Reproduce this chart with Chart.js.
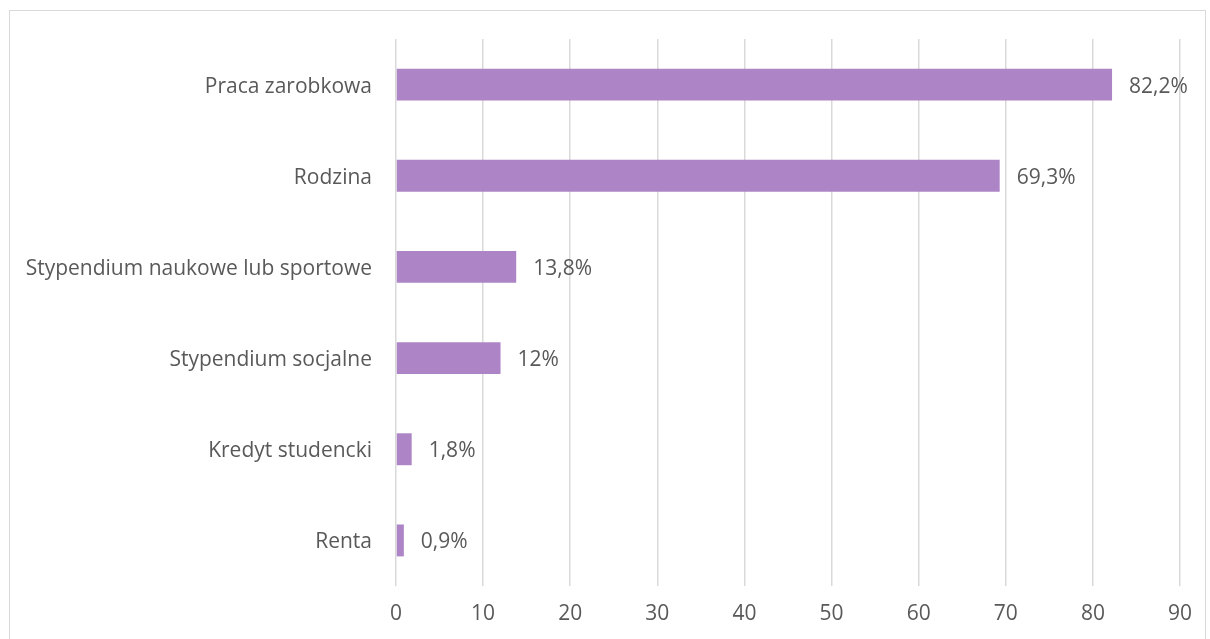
<!DOCTYPE html>
<html>
<head>
<meta charset="utf-8">
<script src="https://cdn.jsdelivr.net/npm/chart.js@4"></script>
<style>
  html, body { margin: 0; padding: 0; background: #fff; }
  #wrap { position: relative; width: 1210px; height: 639px; }
  #frame { position: absolute; left: 9px; top: 10px; width: 1197px; height: 640px; border: 1px solid #d9d9d9; box-sizing: border-box; pointer-events: none; }
</style>
</head>
<body>
<div id="wrap">
  <canvas id="chart" width="1210" height="639"></canvas>
  <div id="frame"></div>
</div>
<script>
const categories = ['Praca zarobkowa', 'Rodzina', 'Stypendium naukowe lub sportowe', 'Stypendium socjalne', 'Kredyt studencki', 'Renta'];
const values = [82.2, 69.3, 13.8, 12, 1.8, 0.9];
const valueLabels = ['82,2%', '69,3%', '13,8%', '12%', '1,8%', '0,9%'];

const textColor = '#595959';
const fontFamily = "'Open Sans', 'Liberation Sans', sans-serif";
const fontSize = 21;

const barLabels = {
  id: 'barLabels',
  afterDatasetsDraw(chart) {
    const ctx = chart.ctx;
    const meta = chart.getDatasetMeta(0);
    ctx.save();
    ctx.font = fontSize + 'px ' + fontFamily;
    ctx.fillStyle = textColor;
    ctx.textAlign = 'left';
    ctx.textBaseline = 'middle';
    meta.data.forEach((bar, i) => {
      ctx.fillText(valueLabels[i], bar.x + 17, bar.y + 2);
    });
    ctx.restore();
  }
};

new Chart(document.querySelector('#chart'), {
  type: 'bar',
  data: {
    labels: categories,
    datasets: [{
      data: values,
      backgroundColor: '#ad84c6',
      borderWidth: 0,
      barPercentage: 0.35,
      categoryPercentage: 1
    }]
  },
  options: {
    indexAxis: 'y',
    responsive: false,
    animation: false,
    events: [],
    layout: { padding: { top: 39, right: 30, left: 0, bottom: 0 } },
    plugins: { legend: { display: false }, tooltip: { enabled: false } },
    scales: {
      x: {
        min: 0,
        max: 90,
        ticks: { stepSize: 10, color: textColor, font: { size: fontSize, family: fontFamily }, padding: 15 },
        grid: { color: '#d9d9d9', lineWidth: 1.5, drawTicks: false },
        border: { display: false },
        afterFit(scale) { scale.height = 53; }
      },
      y: {
        ticks: { color: textColor, font: { size: fontSize, family: fontFamily }, padding: 24, labelOffset: 2 },
        grid: { display: false, drawTicks: false },
        border: { display: false },
        afterFit(scale) { scale.width = 396; }
      }
    }
  },
  plugins: [barLabels]
});
</script>
</body>
</html>
